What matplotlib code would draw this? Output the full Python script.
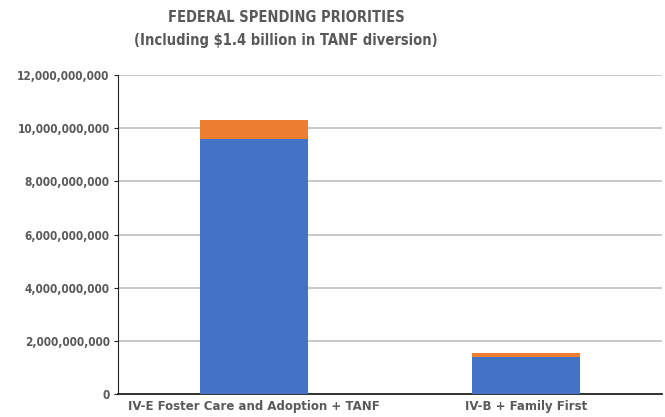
import matplotlib
matplotlib.use('Agg')
import matplotlib.pyplot as plt
from matplotlib.ticker import FuncFormatter

# data
categories = ['IV-E Foster Care and Adoption + TANF', 'IV-B + Family First']
base = [9.6e9, 1.4e9]
extra = [0.7e9, 0.15e9]

blue = '#4472C4'
orange = '#ED7D31'
grey = '#595959'

fig = plt.figure(figsize=(6.65, 4.17), dpi=100)
ax = fig.add_axes([118/665, 1 - 394/417, 544/665, 319/417])

x = range(len(categories))
ax.bar(x, base, width=0.4, color=blue, zorder=3)
ax.bar(x, extra, bottom=base, width=0.4, color=orange, zorder=3)

ax.set_xlim(-0.5, 1.5)
ax.set_ylim(0, 12e9)
ax.set_yticks([i * 2e9 for i in range(7)])
ax.yaxis.set_major_formatter(FuncFormatter(lambda v, p: f'{v:,.0f}'))
ax.set_xticks(list(x))
ax.set_xticklabels(categories)

ax.grid(axis='y', color='#BFBFBF', linewidth=1.2, zorder=0)
for s in ['top', 'right']:
    ax.spines[s].set_visible(False)
ax.spines['left'].set_color('#222222')
ax.spines['bottom'].set_color('#222222')
ax.spines['bottom'].set_linewidth(1.3)
ax.tick_params(axis='y', length=3, color='#222222', labelsize=8.5, labelcolor=grey, pad=3)
ax.tick_params(axis='x', length=0, labelsize=8.5, labelcolor=grey, pad=4)
for t in ax.get_yticklabels():
    t.set_fontweight('bold')
    t.set_fontstretch('condensed')
for t in ax.get_xticklabels():
    t.set_fontweight('bold')

fig.text(286/665, 1 - 18/417, 'FEDERAL SPENDING PRIORITIES', ha='center', va='center',
         fontsize=10.5, fontweight='bold', color=grey, fontstretch='condensed')
fig.text(286/665, 1 - 40/417, '(Including $1.4 billion in TANF diversion)', ha='center', va='center',
         fontsize=10.5, fontweight='bold', color=grey, fontstretch='condensed')

fig.savefig('out.png', dpi=100)
